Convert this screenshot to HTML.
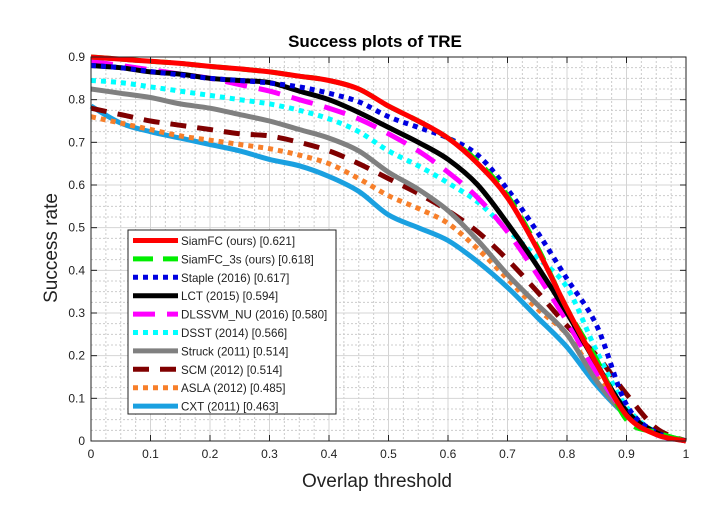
<!DOCTYPE html>
<html><head><meta charset="utf-8"><style>
body{margin:0;background:#fff}
svg{display:block;font-family:"Liberation Sans",sans-serif}
</style></head><body>
<svg id="chart" width="725" height="506">
<rect width="725" height="506" fill="#fff"/>
<g id="grid"></g><g id="series"></g><g id="axes"></g>
<text x="375" y="47" text-anchor="middle" font-size="17" font-weight="bold">Success plots of TRE</text>
<text x="377" y="487" text-anchor="middle" font-size="19" fill="#222">Overlap threshold</text>
<text transform="translate(57,248) rotate(-90)" text-anchor="middle" font-size="19" fill="#222">Success rate</text>
<g id="legend"></g>
</svg>
<script>
const xs=[0,.05,.1,.15,.2,.25,.3,.35,.4,.45,.5,.55,.6,.65,.7,.75,.8,.85,.9,.95,1];
const siamfc=[.90,.895,.89,.885,.878,.872,.865,.855,.845,.825,.785,.75,.71,.65,.57,.45,.31,.18,.06,.015,0];
const siamfc3s=[.90,.895,.89,.885,.878,.872,.865,.855,.845,.825,.785,.75,.71,.655,.575,.455,.31,.19,.05,.02,0];
const staple=[.88,.875,.866,.858,.85,.845,.839,.83,.815,.795,.76,.735,.71,.67,.59,.49,.38,.27,.085,.02,0];
const lct=[.88,.875,.865,.86,.85,.845,.84,.82,.80,.77,.735,.70,.66,.60,.51,.41,.30,.18,.07,.02,0];
const dlssvm=[.89,.88,.87,.86,.85,.835,.82,.80,.78,.755,.72,.68,.63,.57,.49,.39,.28,.16,.065,.015,0];
const dsst=[.845,.84,.83,.82,.81,.80,.79,.775,.755,.725,.68,.645,.605,.56,.495,.43,.36,.21,.08,.02,0];
const struck=[.825,.815,.805,.79,.78,.765,.75,.73,.71,.68,.63,.59,.54,.47,.39,.32,.25,.14,.06,.02,0];
const scm=[.78,.765,.75,.74,.73,.72,.715,.70,.68,.65,.615,.58,.54,.49,.425,.35,.27,.20,.11,.03,0];
const asla=[.76,.745,.73,.715,.705,.695,.685,.67,.65,.615,.575,.545,.51,.45,.38,.31,.25,.15,.07,.02,0];
const cxt=[.785,.745,.725,.71,.695,.68,.66,.645,.62,.585,.53,.5,.47,.42,.36,.29,.22,.13,.06,.02,0];
const labels=["SiamFC (ours) [0.621]","SiamFC_3s (ours) [0.618]","Staple (2016) [0.617]","LCT (2015) [0.594]","DLSSVM_NU (2016) [0.580]","DSST (2014) [0.566]","Struck (2011) [0.514]","SCM (2012) [0.514]","ASLA (2012) [0.485]","CXT (2011) [0.463]"];
const xTicks=[0,.1,.2,.3,.4,.5,.6,.7,.8,.9,1];
const xTickLabels=["0","0.1","0.2","0.3","0.4","0.5","0.6","0.7","0.8","0.9","1"];
const yTicks=[0,.1,.2,.3,.4,.5,.6,.7,.8,.9];
const yTickLabels=["0","0.1","0.2","0.3","0.4","0.5","0.6","0.7","0.8","0.9"];

const X0=91,X1=686,Y0=441,Y1=57;
const sx=v=>X0+v*(X1-X0);
const sy=v=>Y0-v/0.9*(Y0-Y1);
const NS="http://www.w3.org/2000/svg";
function mk(tag,attrs,parent){const e=document.createElementNS(NS,tag);for(const k in attrs)e.setAttribute(k,attrs[k]);parent.appendChild(e);return e;}
function smooth(pts){let d='M'+pts[0][0].toFixed(1)+','+pts[0][1].toFixed(1);
 for(let i=0;i<pts.length-1;i++){const p0=pts[Math.max(0,i-1)],p1=pts[i],p2=pts[i+1],p3=pts[Math.min(pts.length-1,i+2)];
  const c1x=p1[0]+(p2[0]-p0[0])/6,c1y=p1[1]+(p2[1]-p0[1])/6,c2x=p2[0]-(p3[0]-p1[0])/6,c2y=p2[1]-(p3[1]-p1[1])/6;
  d+='C'+c1x.toFixed(1)+','+c1y.toFixed(1)+' '+c2x.toFixed(1)+','+c2y.toFixed(1)+' '+p2[0].toFixed(1)+','+p2[1].toFixed(1);}
 return d;}
const grid=document.getElementById('grid'),axes=document.getElementById('axes'),ser=document.getElementById('series'),leg=document.getElementById('legend');
for(let i=0;i<=40;i++){const v=i/40;if(i%4===0)continue;
 const l=mk('line',{x1:sx(v),x2:sx(v),y1:Y1,y2:Y0,stroke:'#ccc','stroke-dasharray':'2,2','stroke-width':1},grid);
 }
for(let i=0;i<=36;i++){const v=i*0.9/36;if(i%4===0)continue;
 const l=mk('line',{x1:X0,x2:X1,y1:sy(v),y2:sy(v),stroke:'#ccc','stroke-dasharray':'2,2','stroke-width':1},grid);
 }
xTicks.forEach((v,i)=>{
 const g=mk('line',{x1:sx(v),x2:sx(v),y1:Y1,y2:Y0,stroke:'#d4d4d4'},grid);
 
 mk('line',{x1:sx(v),x2:sx(v),y1:Y0,y2:Y0-6,stroke:'#222'},axes);
 mk('line',{x1:sx(v),x2:sx(v),y1:Y1,y2:Y1+6,stroke:'#222'},axes);
 const t=mk('text',{x:sx(v),y:Y0+17,'text-anchor':'middle','font-size':12,fill:'#222'},axes);t.textContent=xTickLabels[i];
 });
yTicks.forEach((v,i)=>{
 const g=mk('line',{x1:X0,x2:X1,y1:sy(v),y2:sy(v),stroke:'#d4d4d4'},grid);
 
 mk('line',{x1:X0,x2:X0+6,y1:sy(v),y2:sy(v),stroke:'#222'},axes);
 mk('line',{x1:X1,x2:X1-6,y1:sy(v),y2:sy(v),stroke:'#222'},axes);
 const t=mk('text',{x:X0-6,y:sy(v)+4,'text-anchor':'end','font-size':12,fill:'#222'},axes);t.textContent=yTickLabels[i];
 });
const box=mk('rect',{x:X0,y:Y1,width:X1-X0,height:Y0-Y1,fill:'none',stroke:'#222','stroke-width':1},axes);

const data=[siamfc,siamfc3s,staple,lct,dlssvm,dsst,struck,scm,asla,cxt];
const styles=[['#ff0000',''],['#00ee00','20,10'],['#0000e0','5,5'],['#000',''],['#ff00ff','22,12'],['#00ffff','5,5'],['#808080',''],['#800000','16,11'],['#f77f2a','5,5'],['#1aa0e0','']];
const names=['siamfc','siamfc-3s','staple','lct','dlssvm-nu','dsst','struck','scm','asla','cxt'];
for(let k=data.length-1;k>=0;k--){
 const pts=data[k].map((v,i)=>[sx(xs[i]),sy(v)]);
 const p=mk('path',{d:smooth(pts),fill:'none',stroke:styles[k][0],'stroke-width':5,'stroke-dasharray':styles[k][1],'stroke-linejoin':'round'},ser);
 }
const lb=mk('rect',{x:128,y:230,width:208,height:184,fill:'#fff',stroke:'#222'},leg);

labels.forEach((s,k)=>{const y=240.5+k*18.4;
 const l=mk('line',{x1:133,x2:178,y1:y,y2:y,stroke:styles[k][0],'stroke-width':5,'stroke-dasharray':styles[k][1]},leg);
 
 const t=mk('text',{x:181,y:y+4.5,'font-size':11.6,fill:'#222'},leg);t.textContent=s;
 });
</script>
</body></html>
